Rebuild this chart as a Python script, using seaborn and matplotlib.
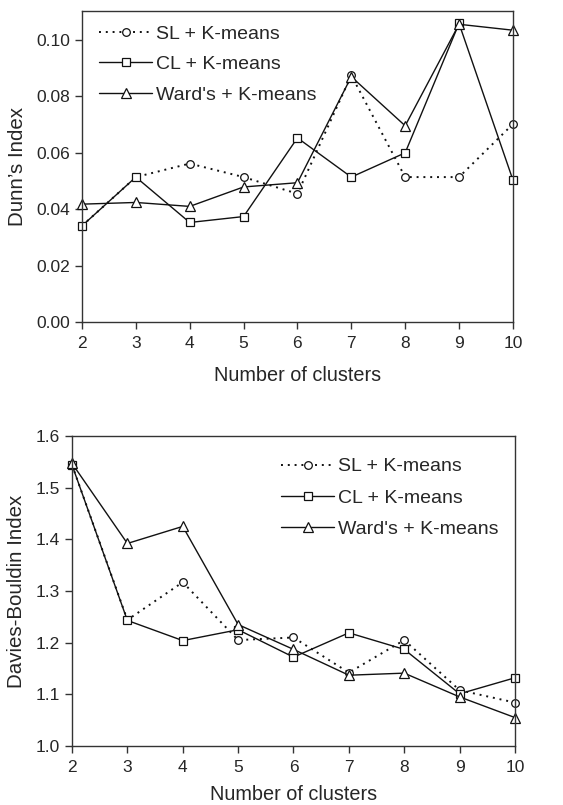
import matplotlib
matplotlib.use("Agg")
import matplotlib.pyplot as plt
import seaborn as sns
import numpy as np

clusters = [2, 3, 4, 5, 6, 7, 8, 9, 10]
series_names = ["SL + K-means", "CL + K-means", "Ward's + K-means"]

dunn_sl = [0.0341, 0.0514, 0.0562, 0.0514, 0.0455, 0.0875, 0.0514, 0.0514, 0.0702]
dunn_cl = [0.0341, 0.0514, 0.0353, 0.0374, 0.0653, 0.0514, 0.0600, 0.1059, 0.0504]
dunn_ward = [0.0418, 0.0424, 0.0410, 0.0479, 0.0494, 0.0870, 0.0696, 0.1056, 0.1035]

db_sl = [1.544, 1.244, 1.317, 1.205, 1.210, 1.142, 1.205, 1.108, 1.084]
db_cl = [1.544, 1.243, 1.204, 1.225, 1.172, 1.219, 1.187, 1.101, 1.132]
db_ward = [1.547, 1.392, 1.425, 1.235, 1.187, 1.137, 1.141, 1.095, 1.055]

dunn_yticks = [0.00, 0.02, 0.04, 0.06, 0.08, 0.10]
db_yticks = [1.0, 1.1, 1.2, 1.3, 1.4, 1.5, 1.6]

sns.set_style("ticks")
plt.rcParams['font.family'] = ['Liberation Sans', 'DejaVu Sans']

fig = plt.figure(figsize=(5.63, 8.05), dpi=100)
ax1 = fig.add_axes([0.1456, 0.600, 0.911 - 0.1456, 0.9863 - 0.600])
ax2 = fig.add_axes([0.1279, 0.0733, 0.9147 - 0.1279, 0.4584 - 0.0733])

styles = [
    dict(marker="o", linestyle=(0, (1, 2.5)), markersize=5.5, lw=1.4),
    dict(marker="s", linestyle="-", markersize=5.8, lw=1.0),
    dict(marker="^", linestyle="-", markersize=6.8, lw=1.0),
]

def draw(ax, data, yticks, ylim, ylabel, fmt, xpad):
    for name, vals, st in zip(series_names, data, styles):
        sns.lineplot(x=clusters, y=vals, ax=ax, color="#111111", linewidth=st["lw"],
                     marker=st["marker"], linestyle=st["linestyle"],
                     markersize=st["markersize"], markerfacecolor="white",
                     markeredgecolor="#111111", markeredgewidth=0.9, label=name)
    ax.set_xlim(2, 10)
    ax.set_ylim(*ylim)
    ax.set_xticks(clusters)
    ax.set_yticks(yticks)
    ax.set_yticklabels([fmt.format(v) for v in yticks])
    ax.set_xlabel("Number of clusters", fontsize=14.3, labelpad=xpad)
    ax.set_ylabel(ylabel, fontsize=14.8, labelpad=7)
    ax.tick_params(axis="both", labelsize=12.5, direction="out", length=5,
                   width=1, color="#333333")
    ax.tick_params(axis="x", pad=5)
    for sp in ax.spines.values():
        sp.set_visible(True)
        sp.set_linewidth(1.0)
        sp.set_color("#333333")
        sp.set_clip_on(False)
    for line in ax.lines:
        line.set_clip_on(False)

draw(ax1, [dunn_sl, dunn_cl, dunn_ward], dunn_yticks, (0.0, 0.1103),
     "Dunn\u2019s Index", "{:.2f}", 11)
draw(ax2, [db_sl, db_cl, db_ward], db_yticks, (1.0, 1.6),
     "Davies-Bouldin Index", "{:.1f}", 7)

ax1.legend(loc="upper left", bbox_to_anchor=(0.0, 1.01), frameon=False,
           fontsize=14, handlelength=2.7, handletextpad=0.2, labelspacing=0.65,
           borderaxespad=0.5)
ax2.legend(loc="upper left", bbox_to_anchor=(0.455, 0.955), frameon=False,
           fontsize=14, handlelength=2.7, handletextpad=0.2, labelspacing=0.7,
           borderaxespad=0.0)

fig.savefig("out.png", dpi=100)
